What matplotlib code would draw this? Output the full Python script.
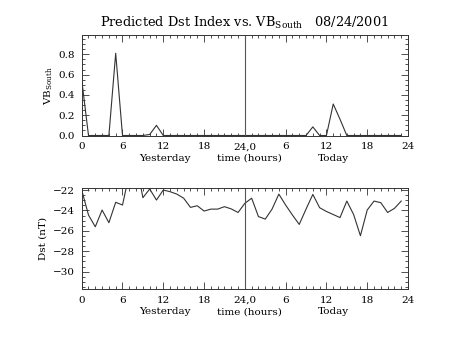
import matplotlib
matplotlib.use("Agg")
import matplotlib.pyplot as plt
from matplotlib.ticker import MultipleLocator, FixedLocator, FixedFormatter
import matplotlib.transforms as mtransforms

hours = list(range(48))
vb_south = [0.55, 0.0, 0.0, 0.0, 0.0, 0.81, 0.0, 0.0, 0.0, 0.0, 0.01, 0.10,
            0.0, 0.0, 0.0, 0.0, 0.0, 0.0, 0.0, 0.0, 0.0, 0.0, 0.0, 0.0,
            0.0, 0.0, 0.0, 0.0, 0.0, 0.0, 0.0, 0.0, 0.0, 0.0, 0.085, 0.0,
            0.0, 0.31, 0.16, 0.0, 0.0, 0.0, 0.0, 0.0, 0.0, 0.0, 0.0, 0.0]
dst = [-22.0, -24.45, -25.6, -23.96, -25.2, -23.2, -23.47, -20.4, -19.2, -22.75,
       -21.9, -22.98, -22.0, -22.16, -22.4, -22.8, -23.7, -23.54, -24.06, -23.87,
       -23.87, -23.63, -23.85, -24.2, -23.3, -22.8, -24.6, -24.85, -23.87, -22.4,
       -23.47, -24.45, -25.37, -23.87, -22.43, -23.73, -24.1, -24.4, -24.7, -23.08,
       -24.4, -26.48, -23.96, -23.08, -23.24, -24.2, -23.8, -23.08]
xtick_pos = [0, 6, 12, 18, 24, 30, 36, 42, 48]
xtick_labels = ["0", "6", "12", "18", "24,0", "6", "12", "18", "24"]
vb_ticks = [0.0, 0.2, 0.4, 0.6, 0.8]
dst_ticks = [-22, -24, -26, -28, -30]
title = "Predicted Dst Index vs. VB$_{\\mathrm{South}}$   08/24/2001"

FONT = "DejaVu Serif"
plt.rcParams['font.family'] = FONT
plt.rcParams['mathtext.fontset'] = 'dejavuserif'
FS = 7.5
LC = "#333333"

fig = plt.figure(figsize=(4.54, 3.41), dpi=100)
W, H = 454, 341
def rect(l, r, t, b):
    return [l / W, 1 - b / H, (r - l) / W, (b - t) / H]

ax1 = fig.add_axes(rect(81.7, 408, 35, 135.5))
ax2 = fig.add_axes(rect(81.7, 408, 188, 289))

def style(ax):
    ax.set_xlim(0, 48)
    ax.xaxis.set_major_locator(FixedLocator(xtick_pos))
    ax.xaxis.set_major_formatter(FixedFormatter(xtick_labels))
    ax.xaxis.set_minor_locator(MultipleLocator(1))
    ax.tick_params(which='both', direction='in', top=True, right=True,
                   labelsize=FS, color=LC, width=0.6, pad=5)
    ax.tick_params(which='major', length=5)
    ax.tick_params(which='minor', length=2.5)
    for s in ax.spines.values():
        s.set_linewidth(0.7)
        s.set_color(LC)
    ax.axvline(24, color="#555555", lw=0.8)
    trans = mtransforms.blended_transform_factory(ax.transData, ax.transAxes)
    for x, lab in [(12.2, "Yesterday"), (24.7, "time (hours)"), (37.1, "Today")]:
        ax.text(x, -0.225, lab, transform=trans, ha='center', va='center', fontsize=FS)

ax1.plot(hours, vb_south, color=LC, lw=0.8)
ax1.set_ylim(0, 0.99)
ax1.yaxis.set_major_locator(FixedLocator(vb_ticks))
ax1.yaxis.set_major_formatter(FixedFormatter(["%.1f" % v for v in vb_ticks]))
ax1.yaxis.set_minor_locator(MultipleLocator(0.05))
style(ax1)
ax1.set_ylabel("VB$_{\\mathrm{South}}$", fontsize=FS)
ax1.yaxis.set_label_coords(-0.083, 0.5)
ax1.set_title(title, fontsize=9.3, pad=6)

ax2.plot(hours, dst, color=LC, lw=0.8)
ax2.set_ylim(-31.7, -21.8)
ax2.yaxis.set_major_locator(FixedLocator(dst_ticks))
ax2.yaxis.set_major_formatter(FixedFormatter(["\u2212%d" % abs(v) for v in dst_ticks]))
ax2.yaxis.set_minor_locator(MultipleLocator(0.5))
style(ax2)
ax2.set_ylabel("Dst (nT)", fontsize=FS)
ax2.yaxis.set_label_coords(-0.105, 0.5)

fig.savefig("out.png", dpi=100)
